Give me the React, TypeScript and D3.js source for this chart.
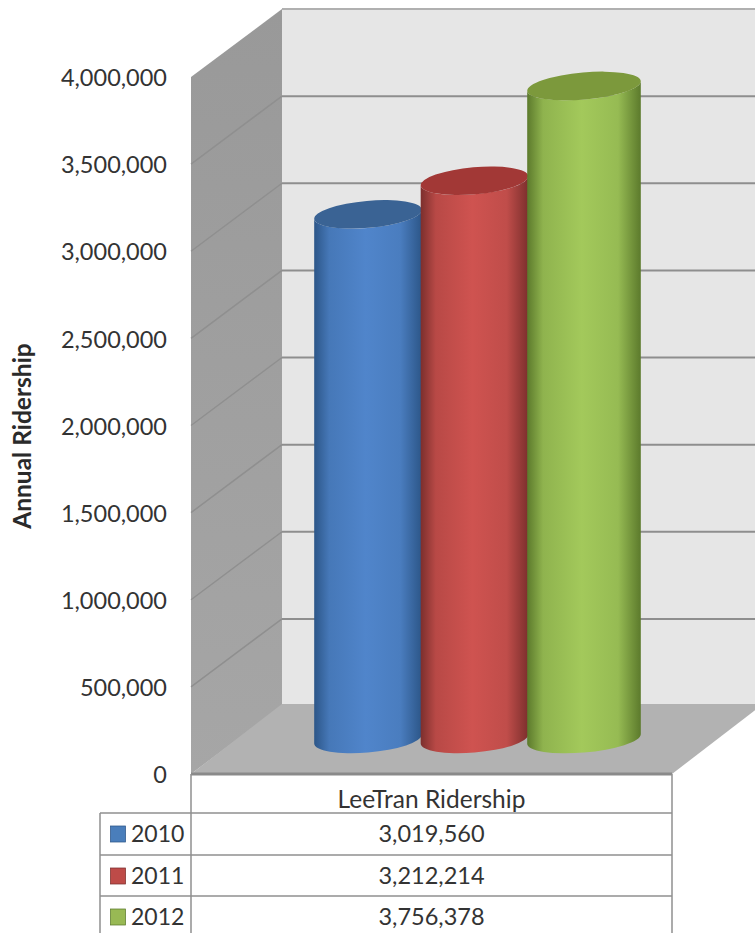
import React from "react";
import * as d3 from "d3";

const years = ["2010", "2011", "2012"];
const ridership = [3019560, 3212214, 3756378];
const categoryLabel = "LeeTran Ridership";
const axisTitle = "Annual Ridership";
const axisTicks = [0, 500000, 1000000, 1500000, 2000000, 2500000, 3000000, 3500000, 4000000];

const edgeColors = ["#2c5688", "#7c2f2d", "#5c7a2c"];
const midColors = ["#5085cb", "#cf5350", "#a3c95b"];
const capColors = ["#3a6394", "#a23836", "#7c993c"];
const swatchColors = ["#4a7ebb", "#be4b48", "#98b954"];

const W = 755;
const H = 933;
const FONT = "Lato, 'Open Sans', sans-serif";
const TEXT = "#333";
const LINE = "#8f8f8f";

// Front plane of the box; the back wall is this plane shifted by `depth`.
const frontLeft = 191;
const frontRight = 672;
const depth = { x: 91, y: -68 };
const y = d3.scaleLinear().domain([0, 4000000]).range([774, 77]);
const fmt = d3.format(",");

// Column placement sits at mid depth, so cylinders stand half way into the box.
const centerX = d3.scaleOrdinal<string, number>().domain(years).range([368, 474.5, 584]);
const radiusX = d3.scaleOrdinal<string, number>().domain(years).range([54, 54, 57]);
const radiusY = 13.5;
const tilt = (-5 * Math.PI) / 180;

const rowLines = [813, 855, 896];
const rowCenters = [834, 876, 917];
const legendLeft = 100;

function cylinderBody(cx: number, topY: number, botY: number, rx: number) {
  // Tangent points of the tilted ellipse, where its outline is vertical.
  const t = Math.atan2(-radiusY * Math.sin(tilt), rx * Math.cos(tilt));
  const ex = rx * Math.cos(t) * Math.cos(tilt) - radiusY * Math.sin(t) * Math.sin(tilt);
  const ey = rx * Math.cos(t) * Math.sin(tilt) + radiusY * Math.sin(t) * Math.cos(tilt);
  const deg = (tilt * 180) / Math.PI;
  return [
    `M${cx - ex},${topY - ey}`,
    `L${cx - ex},${botY - ey}`,
    `A${rx},${radiusY} ${deg} 0 0 ${cx + ex},${botY + ey}`,
    `L${cx + ex},${topY + ey}`,
    `A${rx},${radiusY} ${deg} 0 1 ${cx - ex},${topY - ey}`,
    "Z",
  ].join(" ");
}

export default function App() {
  const midY = depth.y / 2;
  const backY = (v: number) => y(v) + depth.y;
  const backX = frontLeft + depth.x;
  const tableMid = (frontLeft + frontRight) / 2;

  return (
    <svg
      width={W}
      height={H}
      viewBox={`0 0 ${W} ${H}`}
      style={{ position: "absolute", left: 0, top: 0, background: "#fff" }}
      fontFamily={FONT}
    >
      <defs>
        {years.map((yr, i) => (
          <linearGradient id={`cyl-${yr}`} key={yr} x1="0" x2="1" y1="0" y2="0">
            <stop offset="0" stopColor={edgeColors[i]} />
            <stop offset="0.14" stopColor={d3.interpolateRgb(edgeColors[i], midColors[i])(0.72)} />
            <stop offset="0.48" stopColor={midColors[i]} />
            <stop offset="0.8" stopColor={d3.interpolateRgb(edgeColors[i], midColors[i])(0.82)} />
            <stop offset="1" stopColor={edgeColors[i]} />
          </linearGradient>
        ))}
        <linearGradient id="side-wall" x1="0" x2="0" y1="0" y2="1">
          <stop offset="0" stopColor="#999999" />
          <stop offset="1" stopColor="#a6a6a6" />
        </linearGradient>
      </defs>

      {/* Back wall */}
      <rect x={backX} y={backY(4000000)} width={W - backX} height={y(0) - y(4000000)} fill="#e6e6e6" />
      <line x1={backX} x2={W} y1={backY(4000000)} y2={backY(4000000)} stroke="#b0b0b0" strokeWidth={2} />

      {/* Side wall */}
      <polygon
        points={[
          [frontLeft, y(4000000)],
          [backX, backY(4000000)],
          [backX, backY(0)],
          [frontLeft, y(0)],
        ].join(" ")}
        fill="url(#side-wall)"
      />

      {/* Gridlines on both walls */}
      {axisTicks.slice(1, -1).map((v) => (
        <g key={v} fill="none">
          <line x1={backX} x2={W} y1={backY(v)} y2={backY(v)} stroke="#8e8e8e" strokeWidth={2} />
          <line x1={frontLeft} x2={backX} y1={y(v)} y2={backY(v)} stroke="#8f8f8f" strokeWidth={1.5} />
        </g>
      ))}

      {/* Floor */}
      <polygon
        points={[
          [frontLeft, y(0)],
          [backX, backY(0) - 2],
          [frontRight + depth.x, backY(0) - 2],
          [frontRight, y(0)],
        ].join(" ")}
        fill="#b2b2b2"
      />

      {/* Cylinders */}
      {years.map((yr, i) => {
        const cx = centerX(yr);
        const rx = radiusX(yr);
        const topY = y(ridership[i]) + midY + 0.5;
        const botY = y(0) + midY - 1;
        return (
          <g key={yr}>
            <path d={cylinderBody(cx, topY, botY, rx)} fill={`url(#cyl-${yr})`} />
            <ellipse
              cx={cx}
              cy={topY}
              rx={rx}
              ry={radiusY}
              fill={capColors[i]}
              transform={`rotate(${(tilt * 180) / Math.PI} ${cx} ${topY})`}
            />
          </g>
        );
      })}

      {/* Y axis labels */}
      {axisTicks.map((v) => (
        <text
          key={v}
          x={167}
          y={y(v) + 1}
          dy="0.35em"
          textAnchor="end"
          fontSize={23.5}
          fill={TEXT}
        >
          {fmt(v)}
        </text>
      ))}
      <text
        transform="translate(31,436) rotate(-90)"
        textAnchor="middle"
        fontSize={24.5}
        fontWeight={700}
        fill="#2a2a2a"
      >
        {axisTitle}
      </text>

      {/* Data table */}
      <g stroke={LINE} strokeWidth={1.5}>
        <line x1={frontLeft} x2={frontRight} y1={y(0)} y2={y(0)} strokeWidth={3} stroke="#8a8a8a" />
        <line x1={frontLeft} x2={frontLeft} y1={y(0)} y2={H} />
        <line x1={frontRight} x2={frontRight} y1={y(0)} y2={H} />
        <line x1={legendLeft} x2={legendLeft} y1={rowLines[0]} y2={H} />
        {rowLines.map((ly) => (
          <line key={ly} x1={legendLeft} x2={frontRight} y1={ly} y2={ly} />
        ))}
      </g>
      <text x={tableMid} y={799} dy="0.35em" textAnchor="middle" fontSize={24.5} fill={TEXT}>
        {categoryLabel}
      </text>
      {years.map((yr, i) => (
        <g key={yr}>
          <rect
            x={110.5}
            y={rowCenters[i] - 8}
            width={15}
            height={16}
            fill={swatchColors[i]}
            stroke={edgeColors[i]}
            strokeWidth={0.75}
          />
          <text x={131} y={rowCenters[i]} dy="0.35em" fontSize={23} fill={TEXT}>
            {yr}
          </text>
          <text x={tableMid} y={rowCenters[i]} dy="0.35em" textAnchor="middle" fontSize={23.5} fill={TEXT}>
            {fmt(ridership[i])}
          </text>
        </g>
      ))}
    </svg>
  );
}
